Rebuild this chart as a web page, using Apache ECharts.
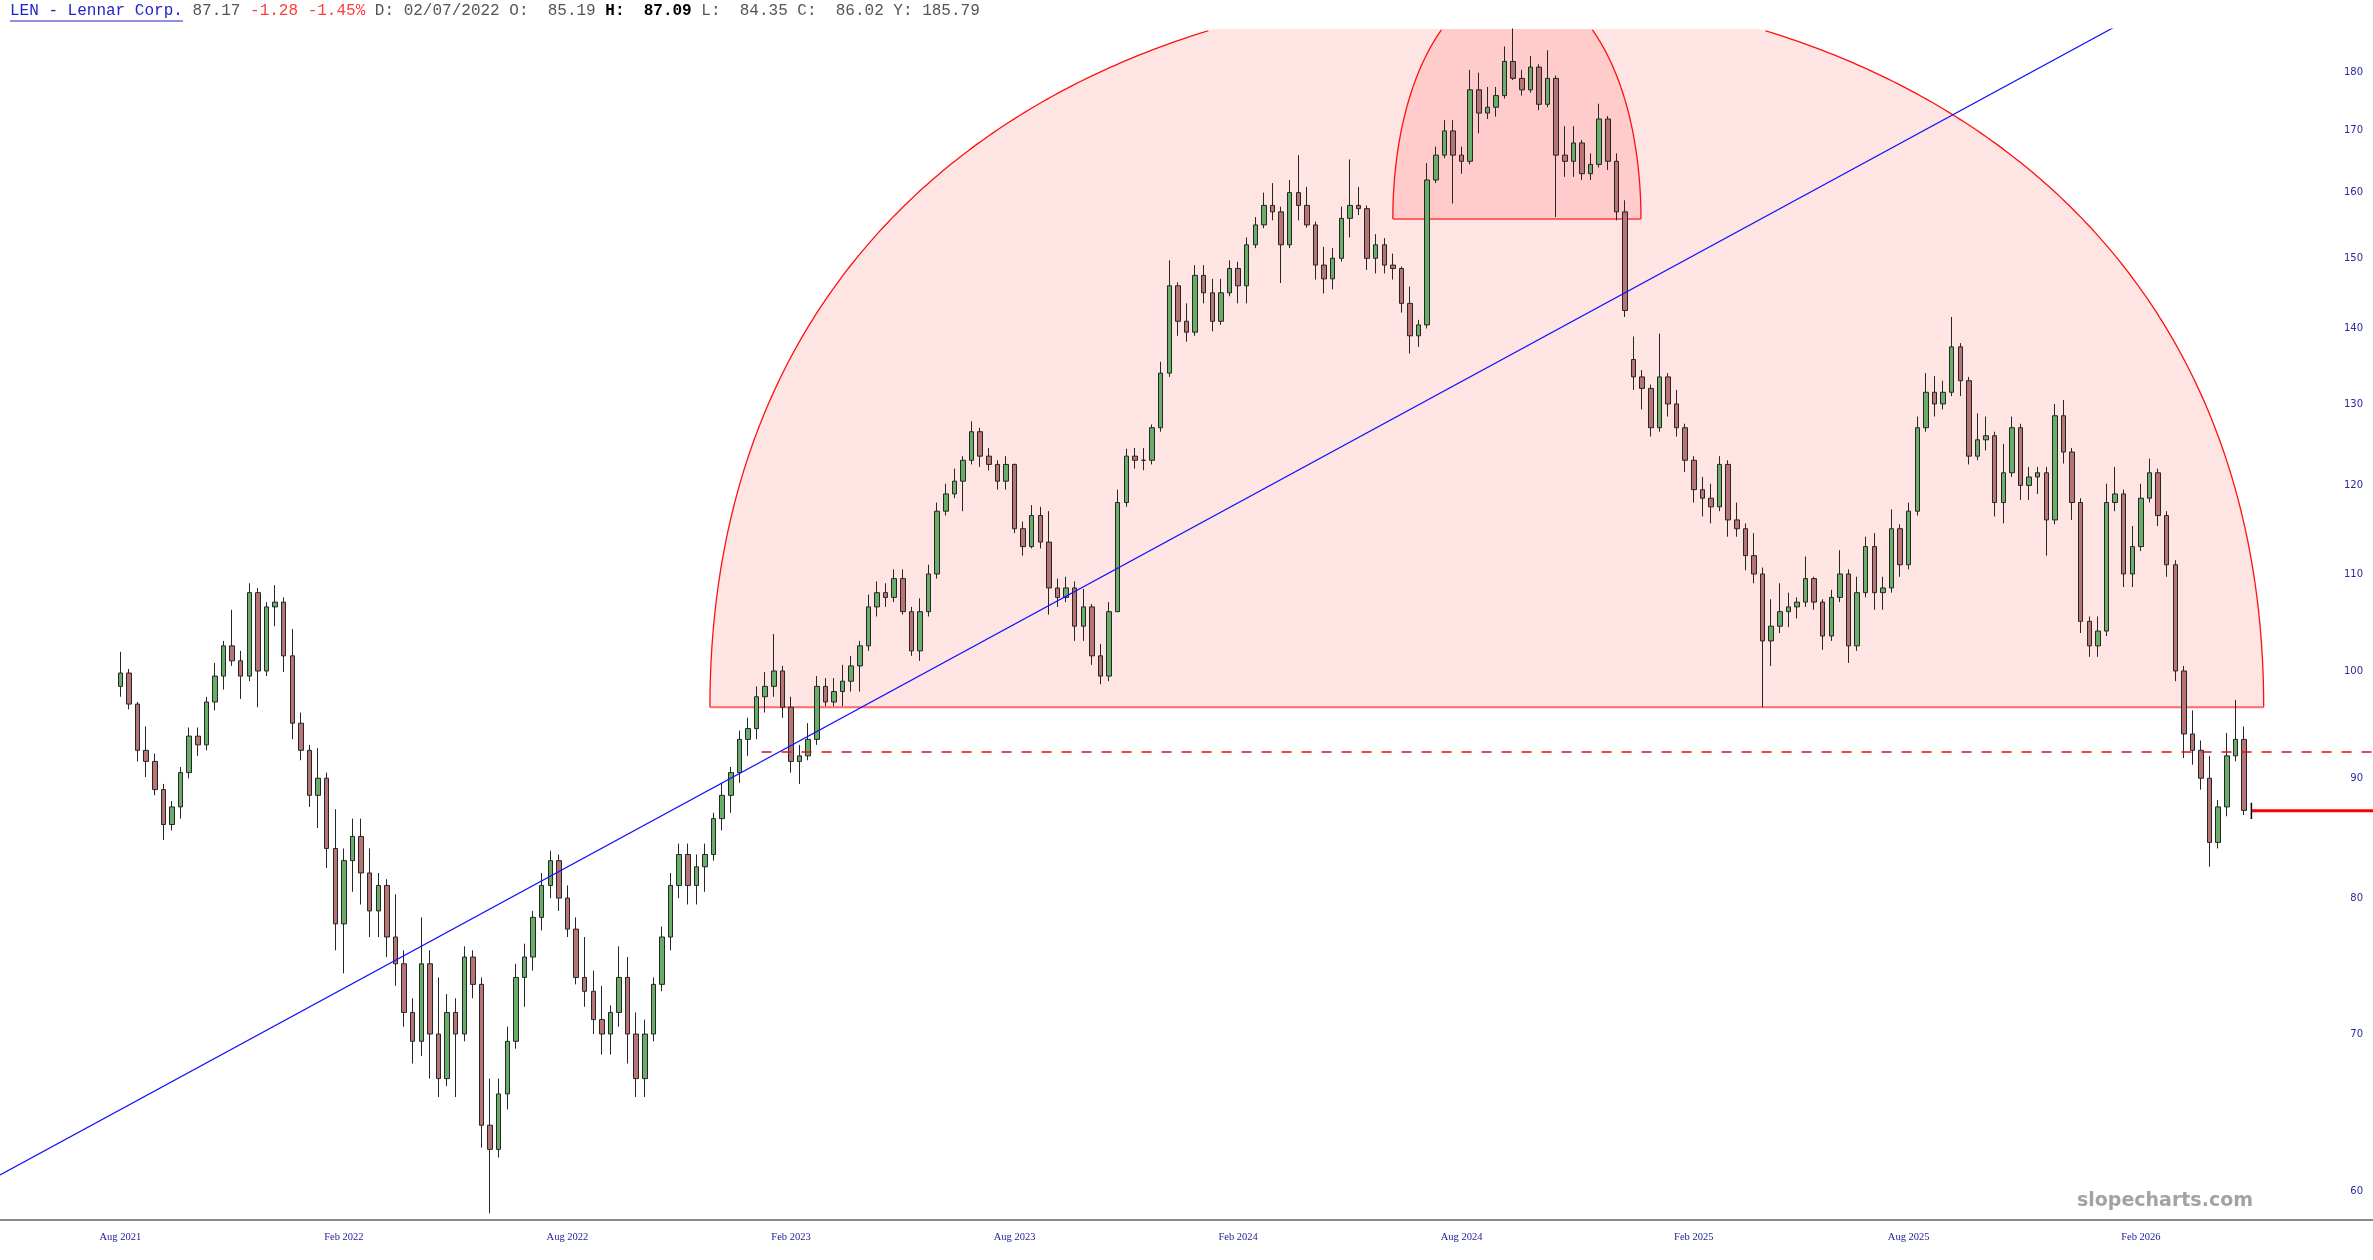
<!DOCTYPE html>
<html><head><meta charset="utf-8">
<script src="https://cdn.jsdelivr.net/npm/echarts@6/dist/echarts.min.js"></script>
<style>html,body{margin:0;padding:0;background:#fff}#c{width:2373px;height:1260px}</style>
</head><body><div id="c"></div>
<script>
// ---------- data (weekly OHLC, first week starting 2021-08-02) ----------
const firstCandleWeek = '2021-08-02';
const axisStartWeek = '2021-04-26';
const axisWeekCount = 277;

const opens = [
98.5,99.8,96.8,92.5,91.5,89.0,86.0,87.5,90.5,93.8,
93.0,97.0,99.5,102.5,101.0,99.5,108.0,100.0,106.5,107.0,
101.5,95.0,92.5,88.5,90.0,84.0,78.0,83.0,85.0,82.0,
79.0,81.0,77.0,75.0,71.5,69.5,75.0,70.0,67.0,71.5,
70.0,75.5,73.5,64.0,62.5,66.0,69.5,74.0,75.5,78.5,
81.0,83.0,80.0,77.6,74.0,73.0,71.0,70.0,71.5,74.0,
70.0,67.0,70.0,73.5,77.0,81.0,83.5,81.0,82.5,83.5,
86.5,88.5,90.5,93.5,94.5,97.5,98.5,100.0,96.5,91.5,
92.0,93.5,98.5,97.0,98.0,99.0,100.5,102.5,106.5,108.0,
107.5,109.5,106.0,102.0,106.0,110.0,117.0,119.0,120.5,123.0,
126.5,123.5,122.5,120.5,122.5,115.0,113.0,116.5,113.5,108.5,
107.5,108.5,104.5,106.5,101.5,99.5,106.0,118.0,123.5,123.0,
123.0,127.0,134.0,146.0,141.0,139.5,147.5,145.0,141.0,145.0,
148.5,146.0,152.0,155.0,158.0,157.0,152.0,160.0,158.0,155.0,
149.0,147.0,150.0,156.0,158.0,157.5,150.0,152.0,149.0,148.5,
143.5,139.0,140.5,162.0,166.0,170.0,166.0,165.0,177.0,173.0,
174.0,176.0,182.0,179.0,177.0,181.0,174.5,179.0,166.0,165.0,
168.0,163.0,164.5,172.0,165.0,157.0,135.8,133.5,132.0,127.0,
133.5,130.0,127.0,123.0,119.5,118.5,117.5,122.5,116.0,115.0,
112.0,110.0,103.0,104.5,106.0,106.5,107.0,109.5,107.0,103.5,
107.5,110.0,102.5,108.0,113.0,108.0,108.5,115.0,111.0,117.0,
127.0,131.5,130.0,131.5,137.5,133.0,123.5,125.5,126.0,118.0,
121.5,127.0,120.0,121.0,121.5,116.0,128.5,124.0,118.0,105.0,
102.5,104.0,118.0,119.0,110.0,113.0,118.5,121.5,116.5,111.0,
100.0,94.0,92.5,90.0,84.5,87.5,92.0,93.5];

const highs = [
101.9,100.2,97.0,94.7,92.2,89.5,88.0,91.0,94.6,94.6,
97.5,100.8,103.0,106.2,102.0,109.0,108.5,107.0,108.8,107.5,
104.2,96.0,93.0,92.7,90.5,87.3,84.0,86.5,86.5,84.0,
82.0,81.5,80.3,76.0,72.5,78.5,76.0,74.0,72.8,72.5,
76.3,76.0,74.0,67.0,67.0,70.5,75.0,76.5,79.0,82.0,
83.8,83.5,81.0,78.5,77.0,74.5,73.4,72.0,76.3,75.5,
71.5,71.0,74.0,77.8,82.0,84.4,84.4,83.5,84.4,87.0,
89.6,91.0,94.3,95.5,98.5,99.9,103.7,100.5,97.5,93.0,
95.0,99.5,99.3,99.3,100.6,101.5,103.0,107.8,109.2,109.0,
110.5,110.5,106.5,107.4,111.0,118.0,120.2,122.0,123.5,127.8,
127.0,124.5,123.0,123.5,122.6,115.8,117.7,117.5,117.0,109.5,
109.7,109.2,108.4,106.8,102.7,107.0,119.5,124.4,124.5,124.5,
127.4,135.5,149.7,146.5,143.5,149.0,149.0,147.0,147.0,149.7,
149.5,153.1,156.2,160.0,161.5,157.8,162.0,166.0,160.9,155.5,
151.7,151.5,157.8,165.3,160.9,158.0,153.6,153.0,150.7,148.8,
145.9,141.2,164.7,167.4,171.8,171.8,167.4,180.5,180.0,177.5,
177.5,184.7,188.0,180.5,183.0,181.5,184.0,179.5,170.8,170.8,
168.5,166.3,174.6,172.5,166.3,158.8,138.9,134.4,132.5,139.3,
134.0,131.8,127.5,123.5,121.0,120.2,123.5,123.0,118.0,115.6,
114.5,110.7,107.3,109.0,108.0,107.5,111.9,109.7,107.3,108.3,
112.6,110.5,109.7,114.1,114.5,109.7,117.2,115.5,118.0,128.4,
134.0,133.6,133.0,141.6,138.0,133.5,128.8,128.4,126.5,125.0,
128.4,127.5,122.2,122.2,122.2,130.0,130.5,124.5,118.5,105.5,
105.5,120.2,122.2,119.5,115.3,120.2,123.2,122.0,117.0,111.5,
100.5,96.2,93.4,92.0,88.1,94.1,97.2,94.7];

const lows = [
97.5,96.3,91.5,90.1,88.5,84.7,85.5,86.5,90.0,92.0,
92.5,96.2,98.2,100.5,97.3,99.0,96.5,99.5,104.5,99.9,
93.5,91.6,87.5,85.7,82.4,76.0,74.3,80.5,79.5,77.0,
77.0,75.5,73.4,70.5,68.0,68.5,67.0,65.8,66.5,65.8,
69.5,72.5,62.6,58.7,62.0,65.0,69.0,71.9,74.5,77.5,
80.0,79.0,77.0,73.5,71.9,70.0,68.6,68.6,70.5,68.0,
65.8,65.8,69.5,73.0,76.0,80.0,79.5,79.5,80.5,83.0,
85.5,87.0,89.6,92.0,93.5,96.0,97.5,95.5,90.5,89.5,
91.6,93.0,96.6,96.6,96.6,98.0,98.0,102.0,105.5,106.5,
107.0,105.7,101.5,101.0,105.5,109.5,116.5,118.5,117.0,122.5,
122.2,121.8,119.5,119.5,114.5,112.0,112.8,112.8,105.7,106.5,
107.0,103.0,103.0,100.6,98.7,99.0,106.0,117.5,122.0,121.8,
122.5,126.5,133.5,139.0,138.2,139.0,143.5,139.6,140.5,144.5,
143.5,143.5,151.5,154.5,155.7,146.4,151.5,155.7,154.6,146.9,
144.9,145.5,149.5,153.1,156.5,148.3,147.8,147.8,146.9,142.2,
136.6,137.5,140.0,161.5,165.5,158.3,163.0,164.5,169.6,172.0,
172.4,175.5,178.7,176.0,176.5,173.5,174.0,156.2,162.5,162.5,
162.0,162.0,164.0,163.6,155.7,141.6,131.8,129.3,125.9,126.5,
128.4,125.9,121.6,118.0,116.4,115.6,117.0,114.1,114.1,110.4,
109.0,96.5,100.5,103.8,104.4,105.3,106.5,106.2,102.1,103.0,
107.0,100.8,102.0,107.5,106.2,106.2,108.0,109.7,110.5,116.5,
126.5,128.4,129.3,131.0,131.0,122.5,123.0,124.2,116.4,115.6,
121.0,118.3,118.3,119.0,112.0,115.5,122.6,116.0,103.8,101.4,
101.4,103.5,117.0,108.6,108.6,112.5,118.0,115.3,109.7,99.0,
91.8,91.2,89.0,82.5,84.0,86.7,91.5,86.8];

const closes = [
99.8,96.8,92.5,91.5,89.0,86.0,87.5,90.5,93.8,93.0,
97.0,99.5,102.5,101.0,99.5,108.0,100.0,106.5,107.0,101.5,
95.0,92.5,88.5,90.0,84.0,78.0,83.0,85.0,82.0,79.0,
81.0,77.0,75.0,71.5,69.5,75.0,70.0,67.0,71.5,70.0,
75.5,73.5,64.0,62.5,66.0,69.5,74.0,75.5,78.5,81.0,
83.0,80.0,77.6,74.0,73.0,71.0,70.0,71.5,74.0,70.0,
67.0,70.0,73.5,77.0,81.0,83.5,81.0,82.5,83.5,86.5,
88.5,90.5,93.5,94.5,97.5,98.5,100.0,96.5,91.5,92.0,
93.5,98.5,97.0,98.0,99.0,100.5,102.5,106.5,108.0,107.5,
109.5,106.0,102.0,106.0,110.0,117.0,119.0,120.5,123.0,126.5,
123.5,122.5,120.5,122.5,115.0,113.0,116.5,113.5,108.5,107.5,
108.5,104.5,106.5,101.5,99.5,106.0,118.0,123.5,123.0,123.0,
127.0,134.0,146.0,141.0,139.5,147.5,145.0,141.0,145.0,148.5,
146.0,152.0,155.0,158.0,157.0,152.0,160.0,158.0,155.0,149.0,
147.0,150.0,156.0,158.0,157.5,150.0,152.0,149.0,148.5,143.5,
139.0,140.5,162.0,166.0,170.0,166.0,165.0,177.0,173.0,174.0,
176.0,182.0,179.0,177.0,181.0,174.5,179.0,166.0,165.0,168.0,
163.0,164.5,172.0,165.0,157.0,142.5,133.5,132.0,127.0,133.5,
130.0,127.0,123.0,119.5,118.5,117.5,122.5,116.0,115.0,112.0,
110.0,103.0,104.5,106.0,106.5,107.0,109.5,107.0,103.5,107.5,
110.0,102.5,108.0,113.0,108.0,108.5,115.0,111.0,117.0,127.0,
131.5,130.0,131.5,137.5,133.0,123.5,125.5,126.0,118.0,121.5,
127.0,120.0,121.0,121.5,116.0,128.5,124.0,118.0,105.0,102.5,
104.0,118.0,119.0,110.0,113.0,118.5,121.5,116.5,111.0,100.0,
94.0,92.5,90.0,84.5,87.5,92.0,93.5,87.2];

const yTicks = [60,70,80,90,100,110,120,130,140,150,160,170,180];
const labelMonths = [1, 7];   // Feb, Aug
const monthNames = ['Jan','Feb','Mar','Apr','May','Jun','Jul','Aug','Sep','Oct','Nov','Dec'];
const lastLabelWeek = '2026-03-02';

// annotations (dates / prices)
const trendLine = [['2021-04-26', 60.95], ['2026-08-10', 216.1]];
const supportLine = {from: '2023-01-06', price: 92.35};
const lastPrice = {from: '2026-05-03', price: 87.17};
const arcs = [
  {from: '2022-11-25', to: '2026-05-13', base: 96.5, apex: 195.2},
  {from: '2024-06-03', to: '2024-12-22', base: 155.9, apex: 196.5}
];

// header texts
const header = {
  title: 'LEN - Lennar Corp.', last: '87.17', change: '-1.28 -1.45%',
  date: '02/07/2022', o: '85.19', h: '87.09', l: '84.35', c: '86.02', y: '185.79'
};
const watermark = 'slopecharts.com';

// ---------- helpers ----------
const DAY = 86400000;
function parseD(s){ const p = s.split('-').map(Number); return Date.UTC(p[0], p[1]-1, p[2]); }
const axisStart = parseD(axisStartWeek);
function dateToIdx(s){ return (parseD(s) - axisStart) / (7*DAY); }
function fmtD(t){ const d = new Date(t); return d.getUTCFullYear()+'-'+String(d.getUTCMonth()+1).padStart(2,'0')+'-'+String(d.getUTCDate()).padStart(2,'0'); }

const cats = [];
for (let i = 0; i < axisWeekCount; i++) cats.push(fmtD(axisStart + i*7*DAY));
const maxLabelIdx = dateToIdx(lastLabelWeek);

function labelFor(i){
  if (i > maxLabelIdx) return '';
  const d0 = axisStart + i*7*DAY;
  for (let k = 0; k < 5; k++){
    const d = new Date(d0 + k*DAY);
    const m = d.getUTCMonth(), day = d.getUTCDate();
    if (labelMonths.indexOf(m) >= 0 && (day === 1 || (k === 0 && day <= 3)))
      return monthNames[m] + ' ' + d.getUTCFullYear();
  }
  return '';
}

const firstIdx = dateToIdx(firstCandleWeek);
const candleData = opens.map((o, i) => [cats[firstIdx + i], o, closes[i], lows[i], highs[i]]);

function renderArc(params, api){
  const a = arcs[params.dataIndex];
  const i0 = dateToIdx(a.from), i1 = dateToIdx(a.to);
  const c = (i0 + i1)/2, r = (i1 - i0)/2;
  const sb = Math.sqrt(a.base), st = Math.sqrt(a.apex);
  const cs = params.coordSys;
  const top = cs.y;
  const pts = [];
  const steps = 360;
  for (let k = 0; k <= steps; k++){
    const t = Math.PI * k / steps;
    const xv = c - r*Math.cos(t);
    const pv = Math.pow(sb + (st - sb)*Math.sin(t), 2);
    pts.push(api.coord([xv, pv]));
  }
  const fillPts = pts.map(p => [p[0], Math.max(p[1], top)]);
  const segs = []; let cur = [];
  pts.forEach(p => { if (p[1] >= top) cur.push(p); else { if (cur.length > 1) segs.push(cur); cur = []; } });
  if (cur.length > 1) segs.push(cur);
  const b0 = api.coord([i0, a.base]), b1 = api.coord([i1, a.base]);
  const children = [
    {type: 'polygon', shape: {points: fillPts}, style: {fill: 'rgba(255,0,0,0.105)', stroke: null}}
  ];
  segs.forEach(s => children.push({type: 'polyline', shape: {points: s}, style: {stroke: '#ff1010', lineWidth: 1.3, fill: null}}));
  children.push({type: 'line', shape: {x1: b0[0], y1: b0[1], x2: b1[0], y2: b1[1]}, style: {stroke: 'rgba(255,70,70,0.8)', lineWidth: 2}});
  return {type: 'group', children: children};
}

const lastIdx = axisWeekCount - 1;
const chart = echarts.init(document.getElementById('c'));
chart.setOption({
  animation: false,
  backgroundColor: '#ffffff',
  grid: {left: 0, right: 0, top: 29, bottom: 40, containLabel: false, outerBoundsMode: 'none'},
  xAxis: [{
    type: 'category', data: cats, boundaryGap: false,
    axisLine: {show: true, lineStyle: {color: '#8a8a8a', width: 2}},
    axisTick: {show: false}, splitLine: {show: false},
    axisLabel: {
      interval: (idx) => labelFor(idx) !== '',
      formatter: (v, idx) => labelFor(idx),
      color: '#1c1c96', fontFamily: 'Liberation Serif', fontSize: 10.5, margin: 12
    }
  }, {
    type: 'value', min: 0, max: lastIdx, show: false
  }],
  yAxis: {
    type: 'log', logBase: 10, min: 58.31, max: 187.9, position: 'right',
    axisLine: {show: false}, axisTick: {show: false}, splitLine: {show: false},
    axisLabel: {
      inside: true, customValues: yTicks, margin: 10,
      color: '#2a2a9a', fontFamily: 'DejaVu Sans', fontSize: 10,
      formatter: v => String(Math.round(v))
    }
  },
  series: [
    {type: 'custom', xAxisIndex: 1, yAxisIndex: 0, clip: true, z: 1, silent: true,
     data: arcs.map(a => [dateToIdx(a.from), a.base]), renderItem: renderArc},
    {type: 'candlestick', xAxisIndex: 0, yAxisIndex: 0, z: 2, barWidth: 5,
     encode: {x: 0, y: [1, 2, 3, 4]}, data: candleData,
     itemStyle: {color: '#68ad68', color0: '#b87474', borderColor: '#262626', borderColor0: '#262626', borderWidth: 1}},
    {type: 'line', xAxisIndex: 1, z: 3, symbol: 'none', clip: true, silent: true,
     data: trendLine.map(p => [dateToIdx(p[0]), p[1]]), lineStyle: {color: '#1010ff', width: 1.2}},
    {type: 'line', xAxisIndex: 1, z: 3, symbol: 'none', silent: true,
     data: [[dateToIdx(supportLine.from), supportLine.price], [lastIdx, supportLine.price]],
     lineStyle: {color: '#e01010', width: 1.3, type: [10, 10]}},
    {type: 'line', xAxisIndex: 1, z: 4, symbol: 'none', silent: true,
     data: [[dateToIdx(lastPrice.from), lastPrice.price], [lastIdx, lastPrice.price]],
     lineStyle: {color: '#ff0000', width: 3}},
    {type: 'line', xAxisIndex: 1, z: 5, symbol: 'none', silent: true,
     data: [[dateToIdx(lastPrice.from), lastPrice.price*0.992], [dateToIdx(lastPrice.from), lastPrice.price*1.008]],
     lineStyle: {color: '#000', width: 1.5}}
  ],
  graphic: [
    {type: 'text', left: 10, top: 3, z: 100, style: {
      text: '{t|' + header.title + '}{p| ' + header.last + ' }{r|' + header.change + '}{p| D: ' + header.date +
            ' O:  ' + header.o + ' }{b|H:  ' + header.h + '}{p| L:  ' + header.l + ' C:  ' + header.c + ' Y: ' + header.y + '}',
      fontFamily: 'Liberation Mono', fontSize: 16, fill: '#555',
      rich: {
        t: {fill: '#2323c8', fontFamily: 'Liberation Mono', fontSize: 16},
        p: {fill: '#555555', fontFamily: 'Liberation Mono', fontSize: 16},
        r: {fill: '#ff3c3c', fontFamily: 'Liberation Mono', fontSize: 16},
        b: {fill: '#000000', fontFamily: 'Liberation Mono', fontSize: 16, fontWeight: 'bold'}
      }
    }},
    {type: 'line', z: 100, shape: {x1: 10, y1: 21, x2: 183, y2: 21}, style: {stroke: '#2323c8', lineWidth: 1}},
    {type: 'text', right: 120, top: 1192, z: 100, style: {
      text: watermark, fontFamily: 'DejaVu Sans', fontWeight: 'bold', fontSize: 19, fill: '#a3a3a3'}}
  ]
});
</script>
</body></html>
